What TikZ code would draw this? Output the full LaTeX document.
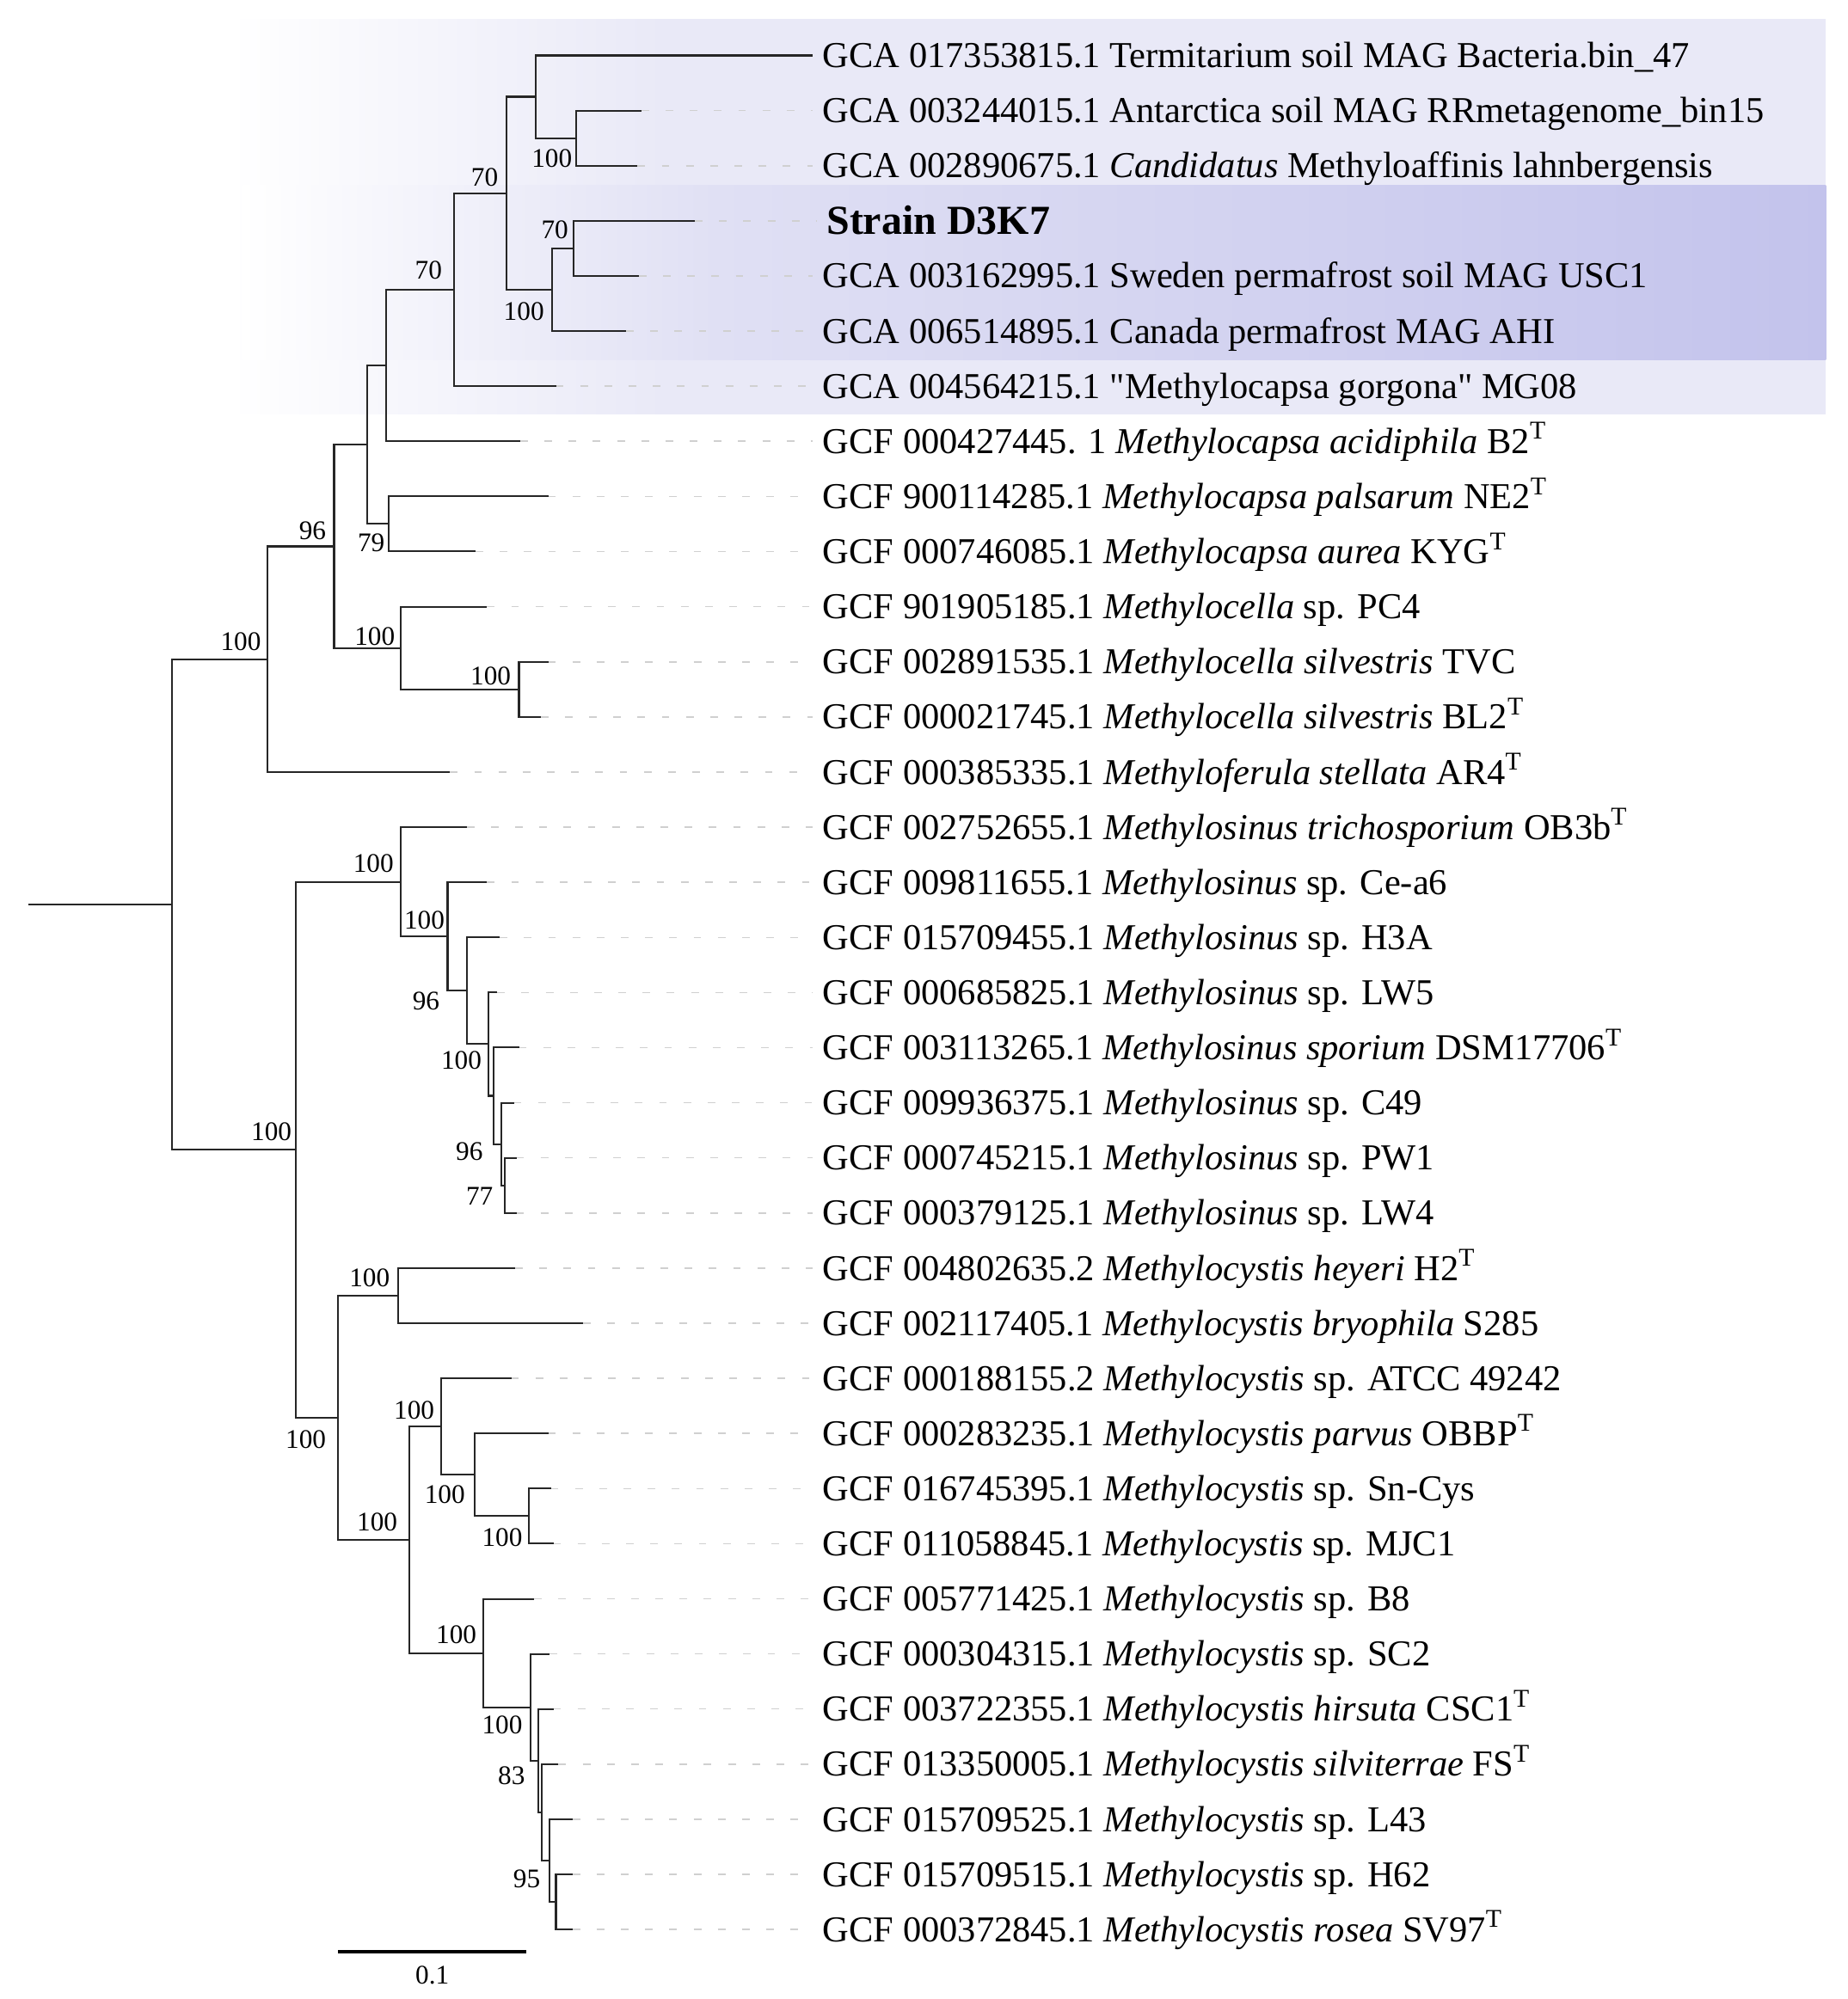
\documentclass[tikz,border=0pt]{standalone}
\usepackage{fontspec}
\setmainfont{Liberation Serif}
\usepackage{tikz}
\usetikzlibrary{positioning, calc}

\definecolor{cladeout}{RGB}{233,233,247}
\definecolor{clademid}{RGB}{224,224,244}
\definecolor{cladein}{RGB}{195,195,236}
\definecolor{leadgray}{RGB}{208,208,208}

\begin{document}
\begin{tikzpicture}[
    x=0.02cm, y=-0.02cm,
    branch/.style={draw=black!85, line width=0.8pt, line join=miter},
    leader/.style={draw=leadgray, line width=0.6pt, dash pattern=on 0.12cm off 0.26cm},
    taxon/.style={anchor=west, inner xsep=0.16cm, inner ysep=0pt, text height=10.8pt, text depth=0pt, font=\fontsize{16.3}{19}\selectfont},
    strain/.style={taxon, text height=12.2pt, font=\fontsize{18.4}{22}\selectfont\bfseries},
    boot/.style={anchor=east, inner sep=0pt, font=\fontsize{12}{14}\selectfont},
]
\useasboundingbox (0,0) rectangle (1449,1568);

% shaded clade of the new strain
\shade[left color=white, right color=cladeout] (180,15) rectangle (521,325);
\fill[cladeout] (520,15) rectangle (1432,325);
\shade[left color=white, right color=clademid] (190,145) rectangle (561,282);
\shade[left color=clademid, right color=cladein] (560,145) rectangle (1432,282);

% taxa
\node[taxon] (lf1) at (637,43.5) {GCA 017353815.1 Termitarium soil MAG Bacteria.bin\_47};
\node[taxon] (lf2) at (637,86.7) {GCA 003244015.1 Antarctica soil MAG RRmetagenome\_bin15};
\node[taxon] (lf3) at (637,130.0) {GCA 002890675.1 \textit{Candidatus} Methyloaffinis lahnbergensis};
\node[strain] (lf4) at (640,173.2) {Strain D3K7};
\node[taxon] (lf5) at (637,216.4) {GCA 003162995.1 Sweden permafrost soil MAG USC1};
\node[taxon] (lf6) at (637,259.7) {GCA 006514895.1 Canada permafrost MAG AHI};
\node[taxon] (lf7) at (637,302.9) {GCA 004564215.1 \textquotedbl Methylocapsa gorgona\textquotedbl{} MG08};
\node[taxon] (lf8) at (637,346.1) {GCF 000427445. 1 \textit{Methylocapsa acidiphila} B2\textsuperscript{T}};
\node[taxon] (lf9) at (637,389.4) {GCF 900114285.1 \textit{Methylocapsa palsarum} NE2\textsuperscript{T}};
\node[taxon] (lf10) at (637,432.6) {GCF 000746085.1 \textit{Methylocapsa aurea} KYG\textsuperscript{T}};
\node[taxon] (lf11) at (637,475.9) {GCF 901905185.1 \textit{Methylocella} sp. PC4};
\node[taxon] (lf12) at (637,519.1) {GCF 002891535.1 \textit{Methylocella silvestris} TVC};
\node[taxon] (lf13) at (637,562.3) {GCF 000021745.1 \textit{Methylocella silvestris} BL2\textsuperscript{T}};
\node[taxon] (lf14) at (637,605.6) {GCF 000385335.1 \textit{Methyloferula stellata} AR4\textsuperscript{T}};
\node[taxon] (lf15) at (637,648.8) {GCF 002752655.1 \textit{Methylosinus trichosporium} OB3b\textsuperscript{T}};
\node[taxon] (lf16) at (637,692.0) {GCF 009811655.1 \textit{Methylosinus} sp. Ce-a6};
\node[taxon] (lf17) at (637,735.3) {GCF 015709455.1 \textit{Methylosinus} sp. H3A};
\node[taxon] (lf18) at (637,778.5) {GCF 000685825.1 \textit{Methylosinus} sp. LW5};
\node[taxon] (lf19) at (637,821.7) {GCF 003113265.1 \textit{Methylosinus sporium} DSM17706\textsuperscript{T}};
\node[taxon] (lf20) at (637,865.0) {GCF 009936375.1 \textit{Methylosinus} sp. C49};
\node[taxon] (lf21) at (637,908.2) {GCF 000745215.1 \textit{Methylosinus} sp. PW1};
\node[taxon] (lf22) at (637,951.4) {GCF 000379125.1 \textit{Methylosinus} sp. LW4};
\node[taxon] (lf23) at (637,994.7) {GCF 004802635.2 \textit{Methylocystis heyeri} H2\textsuperscript{T}};
\node[taxon] (lf24) at (637,1037.9) {GCF 002117405.1 \textit{Methylocystis bryophila} S285};
\node[taxon] (lf25) at (637,1081.1) {GCF 000188155.2 \textit{Methylocystis} sp. ATCC 49242};
\node[taxon] (lf26) at (637,1124.4) {GCF 000283235.1 \textit{Methylocystis parvus} OBBP\textsuperscript{T}};
\node[taxon] (lf27) at (637,1167.6) {GCF 016745395.1 \textit{Methylocystis} sp. Sn-Cys};
\node[taxon] (lf28) at (637,1210.8) {GCF 011058845.1 \textit{Methylocystis} sp. MJC1};
\node[taxon] (lf29) at (637,1254.1) {GCF 005771425.1 \textit{Methylocystis} sp. B8};
\node[taxon] (lf30) at (637,1297.3) {GCF 000304315.1 \textit{Methylocystis} sp. SC2};
\node[taxon] (lf31) at (637,1340.5) {GCF 003722355.1 \textit{Methylocystis hirsuta} CSC1\textsuperscript{T}};
\node[taxon] (lf32) at (637,1383.8) {GCF 013350005.1 \textit{Methylocystis silviterrae} FS\textsuperscript{T}};
\node[taxon] (lf33) at (637,1427.0) {GCF 015709525.1 \textit{Methylocystis} sp. L43};
\node[taxon] (lf34) at (637,1470.2) {GCF 015709515.1 \textit{Methylocystis} sp. H62};
\node[taxon] (lf35) at (637,1513.5) {GCF 000372845.1 \textit{Methylocystis rosea} SV97\textsuperscript{T}};

% branch tips
\coordinate (t1) at (637,43.5);
\coordinate (t2) at (503,86.7);
\coordinate (t3) at (500,130.0);
\coordinate (t4) at (545,173.2);
\coordinate (t5) at (501,216.4);
\coordinate (t6) at (491,259.7);
\coordinate (t7) at (436,302.9);
\coordinate (t8) at (408,346.1);
\coordinate (t9) at (430,389.4);
\coordinate (t10) at (373,432.6);
\coordinate (t11) at (382,475.9);
\coordinate (t12) at (430,519.1);
\coordinate (t13) at (424,562.3);
\coordinate (t14) at (353,605.6);
\coordinate (t15) at (366,648.8);
\coordinate (t16) at (382,692.0);
\coordinate (t17) at (392,735.3);
\coordinate (t18) at (390,778.5);
\coordinate (t19) at (407,821.7);
\coordinate (t20) at (403,865.0);
\coordinate (t21) at (405,908.2);
\coordinate (t22) at (405,951.4);
\coordinate (t23) at (404,994.7);
\coordinate (t24) at (457,1037.9);
\coordinate (t25) at (401,1081.1);
\coordinate (t26) at (430,1124.4);
\coordinate (t27) at (432,1167.6);
\coordinate (t28) at (434,1210.8);
\coordinate (t29) at (419,1254.1);
\coordinate (t30) at (431,1297.3);
\coordinate (t31) at (434,1340.5);
\coordinate (t32) at (438,1383.8);
\coordinate (t33) at (449,1427.0);
\coordinate (t34) at (449,1470.2);
\coordinate (t35) at (449,1513.5);

% internal nodes
\coordinate (T10) at (452,108.35);
\coordinate (T8) at (420,75.9);
\coordinate (T11) at (450,194.8);
\coordinate (T9) at (433,227.25);
\coordinate (T7) at (397,151.6);
\coordinate (T6) at (356,227.25);
\coordinate (T4) at (303,286.7);
\coordinate (T5) at (305,411.0);
\coordinate (T2) at (288,348.85);
\coordinate (T12) at (407,540.7);
\coordinate (T3) at (314,508.3);
\coordinate (T1) at (262,428.6);
\coordinate (T) at (210,517.1);
\coordinate (B8) at (396,929.8);
\coordinate (B7) at (393,897.4);
\coordinate (B6) at (387,859.55);
\coordinate (B5) at (383,819.0);
\coordinate (B4) at (366,777.15);
\coordinate (B3) at (351,734.6);
\coordinate (B1) at (314,691.7);
\coordinate (B9) at (312,1016.3);
\coordinate (B14) at (415,1189.2);
\coordinate (B13) at (372,1156.8);
\coordinate (B11) at (346,1118.95);
\coordinate (B19) at (436,1491.85);
\coordinate (B18) at (431,1459.4);
\coordinate (B17) at (425,1421.6);
\coordinate (B16) at (422,1381.05);
\coordinate (B15) at (416,1339.2);
\coordinate (B12) at (379,1296.65);
\coordinate (B10) at (321,1207.8);
\coordinate (B2) at (265,1112.05);
\coordinate (B) at (232,901.9);
\coordinate (R) at (135,709.5);
\coordinate (stem) at (22,709.5);

% dashed leaders to the names
\foreach \i in {2,...,35}
    \draw[leader] (t\i) -- (lf\i.west);

% upper clade
\draw[branch] (t2) -| (T10) |- (t3);
\draw[branch] (t1) -| (T8) |- (T10);
\draw[branch] (t4) -| (T11) |- (t5);
\draw[branch] (T11) -| (T9) |- (t6);
\draw[branch] (T8) -| (T7) |- (T9);
\draw[branch] (T7) -| (T6) |- (t7);
\draw[branch] (T6) -| (T4) |- (t8);
\draw[branch] (t9) -| (T5) |- (t10);
\draw[branch] (T4) -| (T2) |- (T5);
\draw[branch] (t12) -| (T12) |- (t13);
\draw[branch] (t11) -| (T3) |- (T12);
\draw[branch] (T2) -| (T1) |- (T3);
\draw[branch] (T1) -| (T) |- (t14);

% lower clade
\draw[branch] (t21) -| (B8) |- (t22);
\draw[branch] (t20) -| (B7) |- (B8);
\draw[branch] (t19) -| (B6) |- (B7);
\draw[branch] (t18) -| (B5) |- (B6);
\draw[branch] (t17) -| (B4) |- (B5);
\draw[branch] (t16) -| (B3) |- (B4);
\draw[branch] (t15) -| (B1) |- (B3);
\draw[branch] (t23) -| (B9) |- (t24);
\draw[branch] (t27) -| (B14) |- (t28);
\draw[branch] (t26) -| (B13) |- (B14);
\draw[branch] (t25) -| (B11) |- (B13);
\draw[branch] (t34) -| (B19) |- (t35);
\draw[branch] (t33) -| (B18) |- (B19);
\draw[branch] (t32) -| (B17) |- (B18);
\draw[branch] (t31) -| (B16) |- (B17);
\draw[branch] (t30) -| (B15) |- (B16);
\draw[branch] (t29) -| (B12) |- (B15);
\draw[branch] (B11) -| (B10) |- (B12);
\draw[branch] (B9) -| (B2) |- (B10);
\draw[branch] (B1) -| (B) |- (B2);

% root
\draw[branch] (T) -| (R) |- (B);
\draw[branch] (stem) -- (R);

% bootstrap values
\node[boot] (bT) at (205,503) {100};
\node[boot] (bT1) at (256,416) {96};
\node[boot] (bT3) at (310,499) {100};
\node[boot] (bT12) at (401,530) {100};
\node[boot] (bT5) at (302,426) {79};
\node[boot] (bT6) at (347,212) {70};
\node[boot] (bT7) at (391,139) {70};
\node[boot] (bT10) at (449,124) {100};
\node[boot] (bT9) at (427,244) {100};
\node[boot] (bT11) at (446,180) {70};
\node[boot] (bB) at (229,888) {100};
\node[boot] (bB1) at (309,677) {100};
\node[boot] (bB3) at (349,722) {100};
\node[boot] (bB4) at (345,785) {96};
\node[boot] (bB5) at (378,832) {100};
\node[boot] (bB7) at (379,903) {96};
\node[boot] (bB8) at (387,938) {77};
\node[boot] (bB2) at (256,1129) {100};
\node[boot] (bB9) at (306,1002) {100};
\node[boot] (bB10) at (312,1194) {100};
\node[boot] (bB11) at (341,1106) {100};
\node[boot] (bB13) at (365,1172) {100};
\node[boot] (bB14) at (410,1206) {100};
\node[boot] (bB12) at (374,1282) {100};
\node[boot] (bB15) at (410,1353) {100};
\node[boot] (bB16) at (412,1393) {83};
\node[boot] (bB18) at (424,1474) {95};

% scale bar
\coordinate (sbL) at (265,1531);
\coordinate (sbR) at (413,1531);
\draw[line width=1.7pt] (sbL) -- (sbR);
\node[boot, anchor=center] (sblab) at ($(sbL)!0.5!(sbR)+(0,18)$) {0.1};
\end{tikzpicture}
\end{document}
